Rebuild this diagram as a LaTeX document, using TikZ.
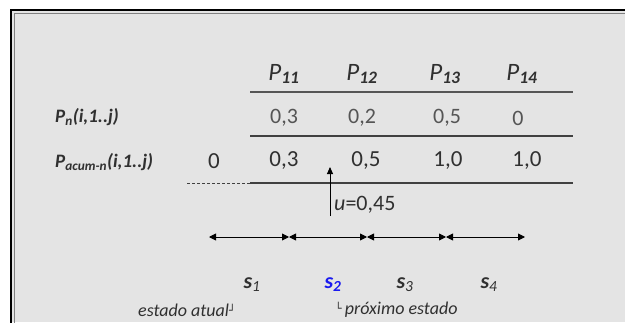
\documentclass[tikz,border=0pt]{standalone}
\usepackage{fontspec}
\setmainfont{Carlito}
\newfontfamily\boxfont{DejaVu Sans}
\usetikzlibrary{arrows.meta}
\definecolor{bg}{HTML}{E4E4E4}
\definecolor{txt}{HTML}{303030}
\definecolor{txtl}{HTML}{555555}
\definecolor{ln}{HTML}{404040}
\definecolor{sblue}{HTML}{1A1AF0}
\tikzset{
  hdr/.style={font=\fontsize{25}{28}\selectfont\itshape, text=txt, inner sep=0pt},
  rowlbl/.style={font=\fontsize{19}{22}\selectfont\bfseries\itshape, text=txt, inner sep=0pt, anchor=west},
  valn/.style={font=\fontsize{22}{25}\selectfont, text=txtl, inner sep=0pt},
  vala/.style={font=\fontsize{23}{26}\selectfont, text=txt, inner sep=0pt},
  stlbl/.style={font=\fontsize{22}{25}\selectfont\bfseries\itshape, text=txt, inner sep=0pt},
  small/.style={font=\fontsize{18}{21}\selectfont\itshape, text=txt, inner sep=0pt},
  rule/.style={draw=ln, line width=1.2pt},
  dbl/.style={draw=black, line width=0.9pt, {Triangle[length=7pt,width=7pt]}-{Triangle[length=7pt,width=7pt]}},
}
\begin{document}
\begin{tikzpicture}[x=1pt,y=-1pt]
\useasboundingbox (0,0) rectangle (625,322);
\fill[white] (0,0) rectangle (625,322);
\fill[bg] (11,10) rectangle (625,322);
\draw[black, line width=2.5pt] (11,330) -- (11,10) -- (630,10);
\draw[gray, line width=1pt] (14,330) -- (14,13) -- (630,13);
% header
\node[hdr] (p11) at (284,74) {P\textsubscript{\bfseries 11}};
\node[hdr] (p12) at (362,74) {P\textsubscript{\bfseries 12}};
\node[hdr] (p13) at (445,74) {P\textsubscript{\bfseries 13}};
\node[hdr] (p14) at (522,74) {P\textsubscript{\bfseries 14}};
\coordinate (h1) at (250,92); \coordinate (h2) at (573,92);
\draw[draw=txtl, line width=1.8pt] (h1) -- (h2);
% row Pn
\node[rowlbl] (lpn) at (55,117) {P\textsubscript{n}(i,1..j)};
\node[valn] (n1) at (284,118) {0,3};
\node[valn] (n2) at (362,118) {0,2};
\node[valn] (n3) at (447,118) {0,5};
\node[valn] (n4) at (518,118) {0};
\coordinate (r1) at (250,136); \coordinate (r2) at (573,136);
\draw[rule] (r1) -- (r2);
% row Pacum
\node[rowlbl] (lpa) at (55,162) {P\textsubscript{acum-n}(i,1..j)};
\node[vala] (a0) at (214,161) {0};
\node[vala] (a1) at (284,161) {0,3};
\node[vala] (a2) at (366,161) {0,5};
\node[vala] (a3) at (448,161) {1,0};
\node[vala] (a4) at (527,161) {1,0};
\coordinate (d1) at (187,183); \coordinate (d2) at (250,183); \coordinate (d3) at (573,183);
\draw[draw=ln, line width=1pt, dash pattern=on 3pt off 2pt] (d1) -- (d2);
\draw[rule] (d2) -- (d3);
% u arrow
\coordinate (ub) at (330,216); \coordinate (ut) at (330,167);
\draw[black, line width=0.9pt, -{Triangle[length=7pt,width=6pt]}] (ub) -- (ut);
\node[inner sep=0pt, anchor=west, text=txt, font=\fontsize{22}{25}\selectfont] (ulbl) at (334,205) {\textit{u}=0,45};
% intervals
\coordinate (b0) at (209,237); \coordinate (b1) at (289,237);
\coordinate (b2) at (367,237); \coordinate (b3) at (446,237); \coordinate (b4) at (525,237);
\draw[dbl] (b0) -- (b1);
\draw[dbl] (b1) -- (b2);
\draw[dbl] (b2) -- (b3);
\draw[dbl] (b3) -- (b4);
% states
\node[stlbl] (s1) at (252,285) {s\textsubscript{\mdseries 1}};
\node[stlbl, text=sblue] (s2) at (333,285) {s\textsubscript{2}};
\node[stlbl] (s3) at (405,285) {s\textsubscript{\mdseries 3}};
\node[stlbl] (s4) at (489,285) {s\textsubscript{\mdseries 4}};
\node[small, anchor=west] (ea) at (138,310) {estado atual\raisebox{2pt}{\upshape\boxfont\fontsize{11}{12}\selectfont ┘}};
\node[small, anchor=west] (pe) at (335,310) {\raisebox{2pt}{\upshape\boxfont\fontsize{11}{12}\selectfont └}\,próximo estado};
\end{tikzpicture}
\end{document}
